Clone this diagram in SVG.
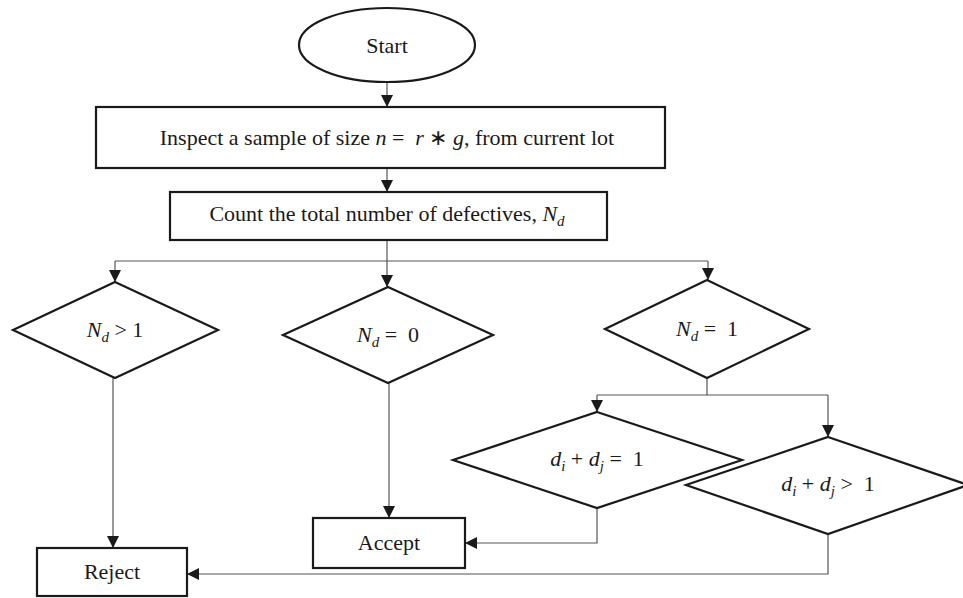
<svg xmlns="http://www.w3.org/2000/svg" width="963" height="598" viewBox="0 0 963 598">
<defs>
<style>
.shape{fill:#fff;stroke:#1a1a1a;stroke-width:2.2}
.conn{fill:none;stroke:#555;stroke-width:1.2}
.t{font-family:"Liberation Serif","Times New Roman",serif;font-size:22px;fill:#1a1a1a;text-anchor:middle}
.m{font-style:italic}
.s{font-style:italic;font-size:15px}
</style>
<marker id="ah" viewBox="0 0 10 10" refX="10" refY="5" markerWidth="12" markerHeight="12" markerUnits="userSpaceOnUse" orient="auto">
<path d="M0,0 L10,5 L0,10 Z" fill="#1a1a1a"/>
</marker>
</defs>
<rect width="963" height="598" fill="#fff"/>
<g id="connectors">
<line class="conn" x1="387" y1="83" x2="387" y2="107" marker-end="url(#ah)"/>
<line class="conn" x1="387" y1="168" x2="387" y2="192" marker-end="url(#ah)"/>
<polyline class="conn" points="387,240 387,261"/>
<polyline class="conn" points="115,261 708,261"/>
<line class="conn" x1="115" y1="261" x2="115" y2="282" marker-end="url(#ah)"/>
<line class="conn" x1="387" y1="261" x2="387" y2="287" marker-end="url(#ah)"/>
<line class="conn" x1="708" y1="261" x2="708" y2="280" marker-end="url(#ah)"/>
<line class="conn" x1="113" y1="378" x2="113" y2="548" marker-end="url(#ah)"/>
<line class="conn" x1="389" y1="383" x2="389" y2="518" marker-end="url(#ah)"/>
<polyline class="conn" points="707,378 707,395"/>
<polyline class="conn" points="597,395 828,395"/>
<line class="conn" x1="597" y1="395" x2="597" y2="412" marker-end="url(#ah)"/>
<line class="conn" x1="828" y1="395" x2="828" y2="437" marker-end="url(#ah)"/>
<polyline class="conn" points="597,508 597,543 465,543" marker-end="url(#ah)"/>
<polyline class="conn" points="828,534 828,574 187,574" marker-end="url(#ah)"/>
</g>
<g id="start">
<ellipse class="shape" cx="387" cy="45" rx="88" ry="37"/>
<text class="t" x="387" y="53">Start</text>
</g>
<g id="inspect">
<rect class="shape" x="96" y="107" width="569" height="61"/>
<text class="t" x="387" y="145">Inspect a sample of size <tspan class="m">n</tspan> =&#160; <tspan class="m">r</tspan> ∗ <tspan class="m">g</tspan>, from current lot</text>
</g>
<g id="count">
<rect class="shape" x="170" y="192" width="437" height="48"/>
<text class="t" x="387" y="221">Count the total number of defectives, <tspan class="m">N</tspan><tspan class="s" dy="5">d</tspan></text>
</g>
<g id="d1">
<polygon class="shape" points="115,282 218,330 115,378 13,330"/>
<text class="t" x="115" y="337"><tspan class="m">N</tspan><tspan class="s" dy="5">d</tspan><tspan dy="-5"> &gt; 1</tspan></text>
</g>
<g id="d0">
<polygon class="shape" points="388,287 493,335 388,383 283,335"/>
<text class="t" x="388" y="342"><tspan class="m">N</tspan><tspan class="s" dy="5">d</tspan><tspan dy="-5"> =&#160; 0</tspan></text>
</g>
<g id="deq1">
<polygon class="shape" points="707,280 809,329 707,378 605,329"/>
<text class="t" x="707" y="336"><tspan class="m">N</tspan><tspan class="s" dy="5">d</tspan><tspan dy="-5"> =&#160; 1</tspan></text>
</g>
<g id="dij1">
<polygon class="shape" points="597,412 742,460 597,508 453,460"/>
<text class="t" x="597" y="466"><tspan class="m">d</tspan><tspan class="s" dy="5">i</tspan><tspan dy="-5"> + </tspan><tspan class="m">d</tspan><tspan class="s" dy="5">j</tspan><tspan dy="-5"> =&#160; 1</tspan></text>
</g>
<g id="dijgt1">
<polygon class="shape" points="828,437 968,485 828,534 686,485"/>
<text class="t" x="828" y="491"><tspan class="m">d</tspan><tspan class="s" dy="5">i</tspan><tspan dy="-5"> + </tspan><tspan class="m">d</tspan><tspan class="s" dy="5">j</tspan><tspan dy="-5"> &gt;&#160; 1</tspan></text>
</g>
<g id="accept">
<rect class="shape" x="313" y="518" width="152" height="50"/>
<text class="t" x="389" y="550">Accept</text>
</g>
<g id="reject">
<rect class="shape" x="37" y="548" width="150" height="48"/>
<text class="t" x="112" y="579">Reject</text>
</g>
</svg>
